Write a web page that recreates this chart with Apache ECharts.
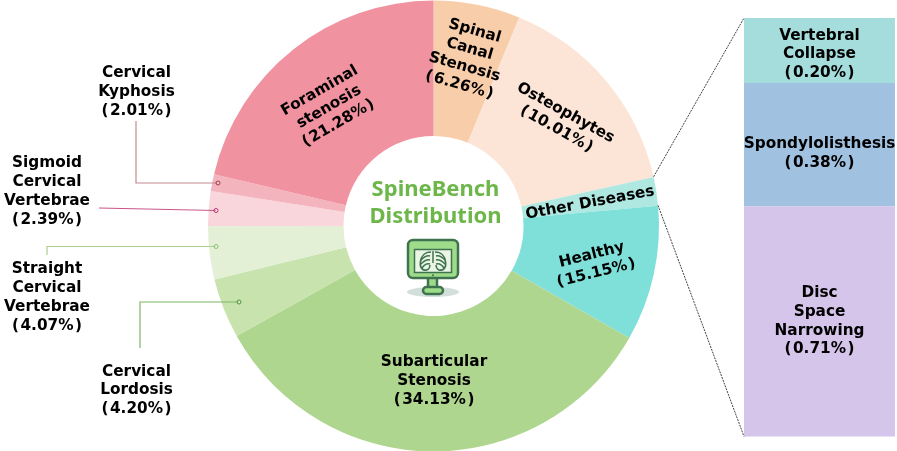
<!DOCTYPE html>
<html><head><meta charset="utf-8">
<style>html,body{margin:0;padding:0;background:#fff}#c{width:897px;height:451px}</style>
<script src="https://cdn.jsdelivr.net/npm/echarts@6/dist/echarts.min.js"></script>
</head><body><div id="c"></div>
<script>
// Categories and printed percentages, as written on the chart
const sliceNames = ['Spinal\nCanal\nStenosis','Osteophytes','Other Diseases','Healthy','Subarticular\nStenosis','Cervical\nLordosis','Straight\nCervical\nVertebrae','Sigmoid\nCervical\nVertebrae','Cervical\nKyphosis','Foraminal\nstenosis'];
const slicePrinted = ['6.26','10.01','','15.15','34.13','4.20','4.07','2.39','2.01','21.28'];
// Slice sizes as drawn in the picture (percent of the circle, measured from its boundaries).
// The reference's drawn sizes differ from some printed labels (Osteophytes, Healthy, Kyphosis, Other).
const sliceDrawn = [6.2,15.3,2.05,9.7,33.6,4.3,3.8,2.5,1.2,21.3];
const sliceColors = ['#f8cdaa','#fce5d6','#aee8e1','#7fe0d9','#aed68e','#c8e3ad','#e3f0d6','#f9d5dc','#f4b4bd','#f0929f'];

const detailNames = ['Vertebral\nCollapse','Spondylolisthesis','Disc\nSpace\nNarrowing'];
const detailValues = [0.20,0.38,0.71];
const detailColors = ['#a5dcdc','#a1c1e0','#d5c5ea'];

// Layout
const FONT = '"DejaVu Sans"';
const HAIR = '\u200A';
const pct = s => '(' + HAIR + s + '%' + HAIR + ')';
const CX = 433.5, CY = 226, R = 225.5, R0 = 90;
const G = {left:744, top:18, width:151, height:418.5};
const labelPos = [
 {x:467,y:58,rotate:-16},{x:561,y:121,rotate:-29},{x:590,y:203,rotate:10.5},{x:594,y:264,rotate:14},
 {x:434,y:381,rotate:0},{x:136.5,y:390.5,rotate:0},{x:47,y:297.5,rotate:0},{x:47,y:191.5,rotate:0},
 {x:136.5,y:92,rotate:0},{x:329,y:107,rotate:30}
];
const detailLabelOffset = [[0,4],[0,9],[0,0]];
const leaders = [
 {pts:[[136,121],[136,183],[218,183]],color:'#c48a90',dot:'#9c3a48'},
 {pts:[[99,208],[216,210.5]],color:'#c9558a',dot:'#b8326f'},
 {pts:[[47,255],[47,246.5],[216,246.5]],color:'#a9d08e',dot:'#8cbf70'},
 {pts:[[140,348],[140,302],[239,302]],color:'#7fb564',dot:'#4f9438'}
];
// Angle (degrees clockwise from top) at the end of slice i
const endAngle = i => sliceDrawn.slice(0,i+1).reduce((a,b)=>a+b,0)*3.6;
const onRim = deg => { const t = deg*Math.PI/180; return [CX+R*Math.sin(t), CY-R*Math.cos(t)]; };

const graphics = [];
const dashed = {stroke:'#444',lineWidth:1,lineDash:[2,1]};
const a = onRim(endAngle(1)), b = onRim(endAngle(2));
graphics.push({type:'line',shape:{x1:a[0],y1:a[1],x2:G.left,y2:G.top},style:dashed,z:20});
graphics.push({type:'line',shape:{x1:b[0],y1:b[1],x2:G.left,y2:G.top+G.height},style:dashed,z:20});
leaders.forEach(l=>{
  graphics.push({type:'polyline',shape:{points:l.pts},style:{stroke:l.color,lineWidth:1.2,fill:null},z:20});
  const e = l.pts[l.pts.length-1];
  graphics.push({type:'circle',shape:{cx:e[0],cy:e[1],r:2},style:{fill:'#ffffff55',stroke:l.dot,lineWidth:1},z:21});
});
// Centre title
const titleFont = '700 22px "Noto Sans"';
graphics.push({type:'text',x:CX+2,y:190,z:20,style:{text:'SpineBench',font:titleFont,fill:'#6cb64a',align:'center',verticalAlign:'middle'}});
graphics.push({type:'text',x:CX+2,y:217,z:20,style:{text:'Distribution',font:titleFont,fill:'#6cb64a',align:'center',verticalAlign:'middle'}});
// Centre icon
const dk='#3f7350', lt='#9fdc8a';
const mirror = (x1,y1,cx1,cy1,cx2,cy2,x2,y2,w) => [
  {type:'bezierCurve',shape:{x1,y1,cpx1:cx1,cpy1:cy1,cpx2:cx2,cpy2:cy2,x2,y2},style:{stroke:dk,lineWidth:w,fill:null}},
  {type:'bezierCurve',shape:{x1:52-x1,y1,cpx1:52-cx1,cpy1:cy1,cpx2:52-cx2,cpy2:cy2,x2:52-x2,y2},style:{stroke:dk,lineWidth:w,fill:null}}
];
graphics.push({type:'group',x:407,y:239,z:20,children:[
 {type:'ellipse',shape:{cx:26,cy:53,rx:26,ry:5},style:{fill:'#d3dfdb'}},
 {type:'rect',shape:{x:21,y:38,width:9,height:11},style:{fill:lt,stroke:dk,lineWidth:2.5}},
 {type:'rect',shape:{x:16,y:48,width:20,height:7,r:3.5},style:{fill:lt,stroke:dk,lineWidth:2.5}},
 {type:'rect',shape:{x:1,y:1,width:50,height:38,r:5},style:{fill:lt,stroke:dk,lineWidth:2.5}},
 {type:'rect',shape:{x:7.5,y:10.5,width:37,height:23},style:{fill:'#eaf5e4',stroke:dk,lineWidth:1.5}},
 {type:'circle',shape:{cx:26,cy:36.2,r:1},style:{fill:dk}},
 {type:'line',shape:{x1:26,y1:12,x2:26,y2:24},style:{stroke:dk,lineWidth:1.5}},
 ...mirror(24,13,18,13,14,17,13.5,23,1.7),
 ...mirror(13.5,23,12.5,29,16,32,20,31,1.7),
 ...mirror(23,17,20,16,17,18,14,21,1.4),
 ...mirror(23,21,20,20,17,22,14,25,1.4),
 ...mirror(23,25,20,24,17,26,15,29,1.4),
 ...mirror(20,31,22,30,23,28,23,26,1.4)
]});

const labelStyle = {color:'#000',fontFamily:FONT,fontWeight:'bold',fontSize:15.3,lineHeight:18.7,align:'center'};
const option = {
  animation:false,
  backgroundColor:'#fff',
  xAxis:{type:'category',show:false,data:['d']},
  yAxis:{type:'value',show:false,min:0,max:1.29,inverse:true},
  grid:Object.assign({},G),
  graphic:{elements:graphics},
  series:[
   {type:'pie',center:[CX,CY],radius:[R0,R],startAngle:90,clockwise:true,avoidLabelOverlap:false,silent:true,
    emphasis:{disabled:true},
    data:sliceNames.map((n,i)=>({name:n,value:sliceDrawn[i],itemStyle:{color:sliceColors[i]}})),
    label:Object.assign({show:true,position:'inside',
      formatter:p=>slicePrinted[p.dataIndex]?p.name+'\n'+pct(slicePrinted[p.dataIndex]):p.name},labelStyle),
    labelLine:{show:false},
    labelLayout:p=>{const l=labelPos[p.dataIndex];return {x:l.x,y:l.y,rotate:l.rotate,align:'center',verticalAlign:'middle'};}
   },
   ...detailNames.map((n,i)=>({
     type:'bar',stack:'d',name:n,barWidth:G.width,silent:true,
     data:[detailValues[i]],
     itemStyle:{color:detailColors[i]},
     label:Object.assign({show:true,position:'inside',offset:detailLabelOffset[i],formatter:()=>n+'\n'+pct(detailValues[i].toFixed(2))},labelStyle)
   }))
  ]
};
const chart = echarts.init(document.getElementById('c'),null,{renderer:'canvas'});
chart.setOption(option);
</script></body></html>
